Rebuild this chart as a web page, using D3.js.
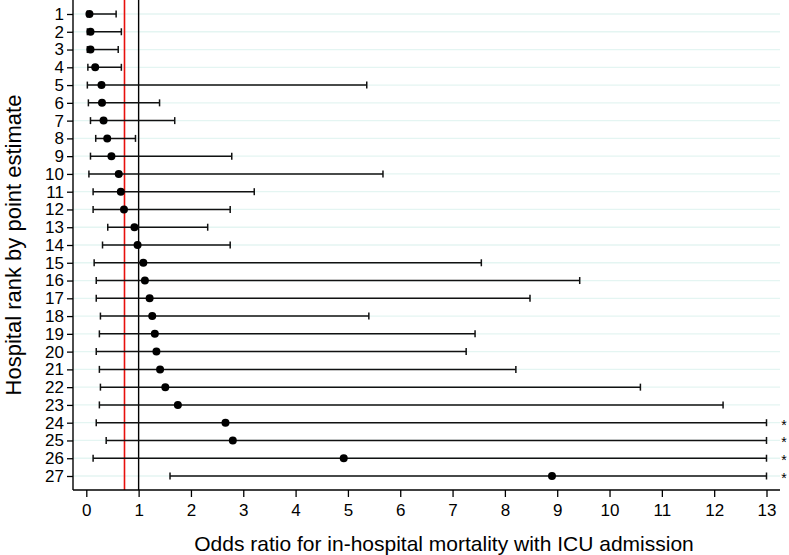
<!DOCTYPE html>
<html><head><meta charset="utf-8">
<script src="https://cdn.jsdelivr.net/npm/d3@7"></script>
<style>body{margin:0;background:#fff}svg{display:block}text{font-family:"Liberation Sans",Arial,sans-serif}</style>
</head><body><div id="chart"></div>
<script>
const ranks = d3.range(1, 28);
const estimate = [0.06,0.08,0.08,0.17,0.29,0.30,0.33,0.40,0.48,0.62,0.66,0.72,0.92,0.98,1.09,1.12,1.21,1.26,1.31,1.34,1.41,1.51,1.75,2.66,2.80,4.92,8.90];
const lower = [0.02,0.02,0.02,0.03,0.02,0.04,0.08,0.18,0.08,0.05,0.13,0.13,0.41,0.31,0.15,0.19,0.19,0.27,0.25,0.19,0.25,0.27,0.25,0.19,0.38,0.13,1.60];
const upper = [0.57,0.67,0.61,0.67,5.36,1.40,1.69,0.94,2.78,5.67,3.21,2.75,2.32,2.75,7.55,9.43,8.48,5.40,7.43,7.26,8.21,10.59,12.17,13,13,13,13];
const truncated = [false,false,false,false,false,false,false,false,false,false,false,false,false,false,false,false,false,false,false,false,false,false,false,true,true,true,true];
const xTicks = d3.range(0, 14);
const pooledOR = 0.73;
const nullOR = 1;

const W = 789, H = 555;
const mLeft = 73, mRight = 780, mTop = 0, mBottom = 490;
const svg = d3.select("#chart").append("svg").attr("width", W).attr("height", H);

const x = d3.scaleLinear().domain([0, 13]).range([86.3, 766.5]);
const y = d3.scaleLinear().domain([1, 27]).range([14, 476]);

// gridlines
svg.append("g").selectAll("line").data(ranks).join("line")
  .attr("x1", mLeft).attr("x2", mRight)
  .attr("y1", d => y(d)).attr("y2", d => y(d))
  .attr("stroke", "#e4f5f2").attr("stroke-width", 1.3);

// reference lines
svg.append("line").attr("x1", x(pooledOR)).attr("x2", x(pooledOR)).attr("y1", mTop).attr("y2", mBottom)
  .attr("stroke", "#e8100c").attr("stroke-width", 1.6);
svg.append("line").attr("x1", x(nullOR)).attr("x2", x(nullOR)).attr("y1", mTop).attr("y2", mBottom)
  .attr("stroke", "#000").attr("stroke-width", 1.4);

const rows = ranks.map((r, i) => ({r, est: estimate[i], lo: lower[i], hi: upper[i], tr: truncated[i]}));
const g = svg.append("g");
const bar = g.selectAll("g").data(rows).join("g");
bar.append("line").attr("x1", d => x(d.lo)).attr("x2", d => x(d.hi))
  .attr("y1", d => y(d.r)).attr("y2", d => y(d.r)).attr("stroke", "#111").attr("stroke-width", 1.5);
bar.append("line").attr("x1", d => x(d.lo)).attr("x2", d => x(d.lo))
  .attr("y1", d => y(d.r) - 3.5).attr("y2", d => y(d.r) + 3.5).attr("stroke", "#111").attr("stroke-width", 1.5);
bar.append("line").attr("x1", d => x(d.hi)).attr("x2", d => x(d.hi))
  .attr("y1", d => y(d.r) - 3.5).attr("y2", d => y(d.r) + 3.5).attr("stroke", "#111").attr("stroke-width", 1.5);
bar.append("circle").attr("cx", d => x(d.est)).attr("cy", d => y(d.r)).attr("r", 4).attr("fill", "#000");
bar.filter(d => d.tr).append("text").attr("x", 784).attr("y", d => y(d.r) + 7)
  .attr("text-anchor", "middle").attr("font-size", 14).text("*");

// axes
const yAxis = svg.append("g").attr("transform", `translate(${mLeft},0)`)
  .call(d3.axisLeft(y).tickValues(ranks).tickFormat(d3.format("d")).tickSize(6).tickPadding(3));
yAxis.select(".domain").attr("d", `M0,${mTop}V${mBottom}`).attr("stroke-width", 1.4);
yAxis.selectAll(".tick line").attr("stroke-width", 1.3);
yAxis.selectAll("text").attr("font-size", 17).attr("fill", "#000").attr("font-family", "Liberation Sans, Arial, sans-serif");

const xAxis = svg.append("g").attr("transform", `translate(0,${mBottom})`)
  .call(d3.axisBottom(x).tickValues(xTicks).tickFormat(d3.format("d")).tickSize(7).tickPadding(7));
xAxis.select(".domain").attr("d", `M${mLeft},0H${mRight}`).attr("stroke-width", 1.4);
xAxis.selectAll(".tick line").attr("stroke-width", 1.3);
xAxis.selectAll("text").attr("font-size", 17).attr("fill", "#000").attr("font-family", "Liberation Sans, Arial, sans-serif");

svg.append("text").attr("x", 444).attr("y", 551).attr("text-anchor", "middle")
  .attr("font-size", 21).text("Odds ratio for in-hospital mortality with ICU admission");
svg.append("text").attr("transform", `translate(21,245) rotate(-90)`)
  .attr("text-anchor", "middle").attr("font-size", 22).text("Hospital rank by point estimate");
</script></body></html>
